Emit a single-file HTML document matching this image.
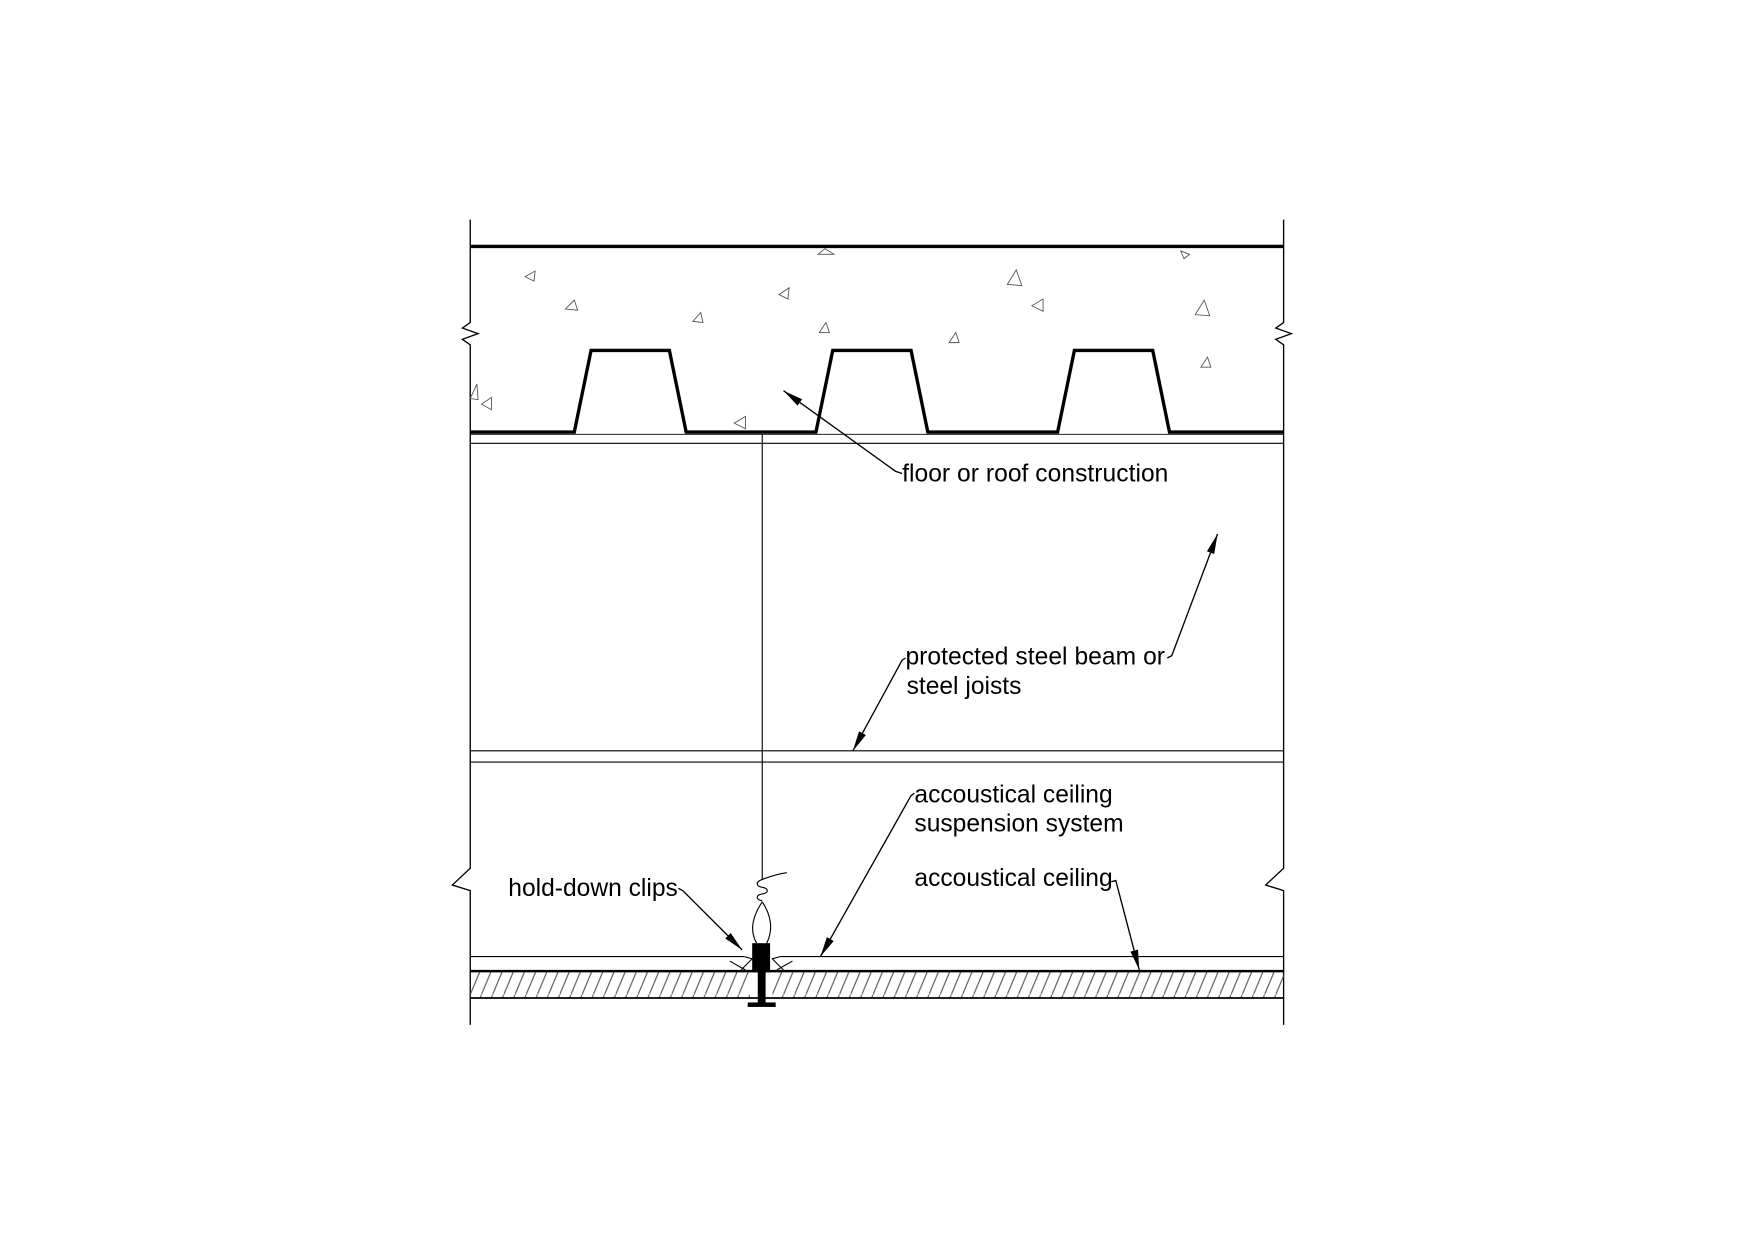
<!DOCTYPE html>
<html><head><meta charset="utf-8"><style>
html,body{margin:0;padding:0;background:#fff;}
svg{display:block;}
text{font-family:"Liberation Sans",Arial,sans-serif;font-size:22px;fill:#000;}
</style></head><body>
<svg width="1755" height="1240" viewBox="0 0 1560 1102" preserveAspectRatio="none" xmlns="http://www.w3.org/2000/svg">
<defs>
<marker id="ah" markerWidth="18" markerHeight="8" refX="18" refY="4" orient="auto" markerUnits="userSpaceOnUse">
<path d="M0,0.5 L18,4 L0,7.5 Z" fill="#000"/>
</marker>
<pattern id="hatch" width="10" height="24" patternUnits="userSpaceOnUse">
<line x1="0" y1="24" x2="10" y2="0" stroke="#555" stroke-width="1"/>
</pattern>
</defs>
<g transform="translate(0.3,1.35) scale(0.9945,0.9939)">
<g stroke="#000" fill="none">
<polyline points="420,195 420,287 413,292 427,297 413,302 420,307 420,775 404,790 420,795 420,915" stroke-width="1.2"/>
<polyline points="1147,195 1147,287 1140,292 1154,297 1140,302 1147,307 1147,775 1131,790 1147,795 1147,915" stroke-width="1.2"/>
<line x1="420" y1="219" x2="1147" y2="219" stroke-width="3"/>
<polyline points="420,385 513,385 528,312 598,312 613,385 729,385 744,312 814,312 829,385 945,385 960,312 1030,312 1045,385 1147,385" stroke-width="3"/>
<line x1="420" y1="387" x2="1147" y2="387" stroke-width="0.8"/>
<line x1="420" y1="395" x2="1147" y2="395" stroke-width="1"/>
<line x1="681" y1="387" x2="681" y2="785" stroke-width="1"/>
<path d="M681,785 c-6,2 -6,6 0,7 c6,1 6,5 0,6 c-6,1 -6,5 0,6 M681,785 c8,-3 14,-5 22,-6" stroke-width="1"/>
<path d="M681,805 c-8,12 -12,25 -5,37 M681,805 c8,12 10,25 4,37" stroke-width="1"/>
<line x1="420" y1="670" x2="1147" y2="670" stroke-width="1"/>
<line x1="420" y1="680" x2="1147" y2="680" stroke-width="1"/>
<line x1="420" y1="854" x2="665" y2="854" stroke-width="1"/>
<line x1="697" y1="854" x2="1147" y2="854" stroke-width="1"/>
<rect x="420" y="867" width="250" height="24" fill="url(#hatch)" stroke="none"/>
<rect x="690" y="867" width="457" height="24" fill="url(#hatch)" stroke="none"/>
<line x1="420" y1="867" x2="1147" y2="867" stroke-width="2.2"/>
<line x1="420" y1="891" x2="1147" y2="891" stroke-width="1.5"/>
<path d="M665,854 L672,856 L662,866 M652,858 L666,866" stroke-width="1"/>
<path d="M697,854 L690,856 L700,866 M708,858 L694,866" stroke-width="1"/>
<polyline points="806,422 800,420 700,348" stroke-width="1.2" marker-end="url(#ah)"/>
<polyline points="809,587 806,589 762,670" stroke-width="1.2" marker-end="url(#ah)"/>
<polyline points="1043,587 1047,585 1088,476" stroke-width="1.2" marker-end="url(#ah)"/>
<polyline points="817,708 814,710 733,854" stroke-width="1.2" marker-end="url(#ah)"/>
<polyline points="993,787 997,786 1018,866" stroke-width="1.2" marker-end="url(#ah)"/>
<polyline points="606,793 610,795 663,848" stroke-width="1.2" marker-end="url(#ah)"/>
</g>
<rect x="672" y="842" width="16" height="26" fill="#000"/>
<rect x="677" y="867" width="7" height="29" fill="#000"/>
<rect x="668" y="895" width="25" height="4" fill="#000"/>
<g stroke="#555" fill="none" stroke-width="0.8">
<path d="M469,246 l9,-5 l-1,9 z M505,275 l8,-8 l3,9 z M619,286 l7,-8 l2,9 z M696,262 l9,-6 l-1,10 z M732,296 l6,-9 l3,9 z M900,253 l8,-13 l5,14 z M922,272 l10,-6 l0,11 z M848,305 l6,-9 l3,9 z M1068,280 l8,-13 l5,14 z M1073,327 l6,-9 l3,9 z M430,360 l9,-6 l0,11 z M656,377 l10,-6 l0,11 z M731,226 l6,-5 l8,5 z M420,355 l6,-13 l1,14 z M1055,223 l8,3 l-5,4 z"/>
</g>
<text x="806" y="429" textLength="238">floor or roof construction</text>
<text x="809" y="593" textLength="232">protected steel beam or</text>
<text x="810" y="619">steel joists</text>
<text x="817" y="716">accoustical ceiling</text>
<text x="817" y="742">suspension system</text>
<text x="817" y="791">accoustical ceiling</text>
<text x="454" y="800">hold-down clips</text>
</g>
</svg>
</body></html>
